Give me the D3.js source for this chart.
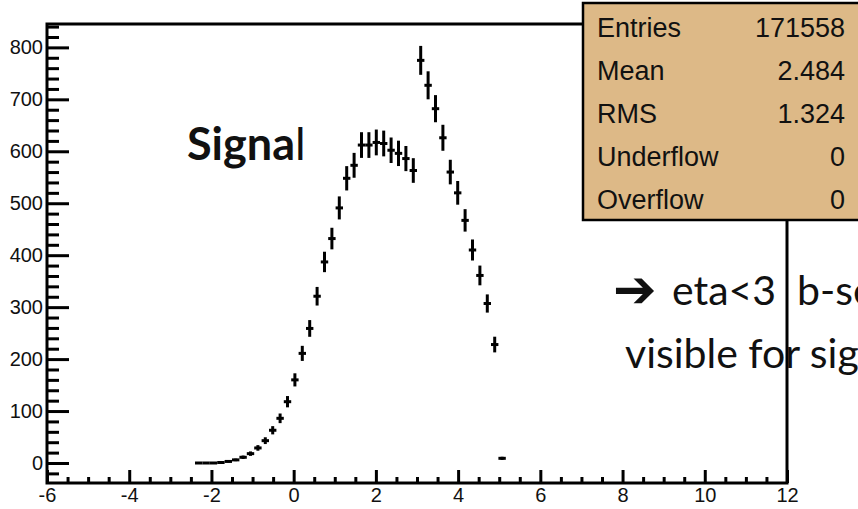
<!DOCTYPE html>
<html lang="en">
<head>
<meta charset="UTF-8">
<title>Signal eta</title>
<script src="https://d3js.org/d3.v7.min.js"></script>
<style>
  body { margin: 0; background: #fff; }
  svg { display: block; }
</style>
</head>
<body>
<div id="chart"></div>
<script>
    // bin centres (100 bins from -6 to 12, width 0.18) and contents
    var binCenters = [-2.31, -2.13, -1.95, -1.77, -1.59, -1.41, -1.23, -1.05, -0.87, -0.69,
                      -0.51, -0.33, -0.15, 0.03, 0.21, 0.39, 0.57, 0.75, 0.93, 1.11,
                      1.29, 1.47, 1.65, 1.83, 2.01, 2.19, 2.37, 2.55, 2.73, 2.91,
                      3.09, 3.27, 3.45, 3.63, 3.81, 3.99, 4.17, 4.35, 4.53, 4.71,
                      4.89, 5.07];
    var counts = [0, 0, 0, 1, 3, 6, 11, 18, 29, 43,
                  63, 86, 118, 160, 211, 259, 321, 387, 432, 491,
                  548, 573, 612, 612, 617, 615, 602, 596, 586, 563,
                  775, 727, 682, 626, 560, 520, 467, 410, 361, 307,
                  228, 9];
    var binWidth = 0.18;

    var xMajor = [-6, -4, -2, 0, 2, 4, 6, 8, 10, 12];
    var yMajor = [0, 100, 200, 300, 400, 500, 600, 700, 800];

    var statNames = ["Entries", "Mean", "RMS", "Underflow", "Overflow"];
    var statValues = ["171558", "2.484", "1.324", "0", "0"];

    var w = 858, h = 509;
    var padL = 47, padR = 787, padT = 24, padB = 483;

    var svg = d3.select("#chart").append("svg")
        .attr("width", w).attr("height", h);

    var x = d3.scaleLinear().domain([-6, 12]).range([padL, padR]);
    var y = d3.scaleLinear().domain([-38.5, 845]).range([padB, padT]);

    // minor ticks
    var xMinor = d3.range(-6, 12.01, 0.5).filter(function(v) { return v % 2 !== 0; });
    var yMinor = d3.range(-20, 845, 20).filter(function(v) { return v % 100 !== 0; });

    function styleAxis(g) {
        g.select(".domain").remove();
        g.selectAll(".tick line").attr("stroke", "#000").attr("stroke-width", 3);
        g.selectAll(".tick text")
            .attr("fill", "#111")
            .style("font-family", "'Liberation Sans', Arial, sans-serif")
            .style("font-size", "20px");
    }

    svg.append("g").attr("transform", "translate(0," + padB + ")")
        .call(d3.axisBottom(x).tickValues(xMinor).tickSize(-6).tickFormat(""))
        .call(styleAxis);
    svg.append("g").attr("transform", "translate(0," + padB + ")")
        .call(d3.axisBottom(x).tickValues(xMajor).tickSize(-13).tickPadding(5)
              .tickFormat(function(d) { return String(d); }))
        .call(styleAxis);

    svg.append("g").attr("transform", "translate(" + padL + ",0)")
        .call(d3.axisLeft(y).tickValues(yMinor).tickSize(-12).tickFormat(""))
        .call(styleAxis);
    svg.append("g").attr("transform", "translate(" + padL + ",0)")
        .call(d3.axisLeft(y).tickValues(yMajor).tickSize(-22).tickPadding(4)
              .tickFormat(function(d) { return String(d); }))
        .call(styleAxis);

    // frame
    svg.append("rect")
        .attr("x", padL).attr("y", padT)
        .attr("width", padR - padL).attr("height", padB - padT)
        .attr("fill", "none").attr("stroke", "#000").attr("stroke-width", 3);

    // points with error bars
    var pts = svg.append("g").attr("stroke", "#000").attr("stroke-width", 3);
    binCenters.forEach(function(c, i) {
        var n = counts[i], err = Math.sqrt(n);
        pts.append("line")
            .attr("x1", x(c - binWidth / 2)).attr("x2", x(c + binWidth / 2))
            .attr("y1", y(n)).attr("y2", y(n));
        if (err > 0) {
            pts.append("line")
                .attr("x1", x(c)).attr("x2", x(c))
                .attr("y1", y(n - err)).attr("y2", y(n + err));
        }
    });

    // slide annotations
    var sig = svg.append("text")
        .attr("x", 187).attr("y", 160)
        .style("font-family", "Lato, 'Open Sans', sans-serif")
        .style("font-size", "45px").attr("fill", "#111");
    sig.append("tspan").attr("font-weight", "bold").text("Signa");
    sig.append("tspan").attr("font-weight", "normal").text("l");

    svg.append("text")
        .attr("x", 613).attr("y", 307)
        .style("font-family", "'DejaVu Sans', sans-serif")
        .style("font-size", "52px").attr("font-weight", "bold").attr("fill", "#111")
        .text("\u2794");
    svg.append("text")
        .attr("x", 672).attr("y", 305)
        .style("font-family", "Lato, 'Open Sans', sans-serif")
        .style("font-size", "41px").attr("fill", "#111")
        .text("eta<3");
    svg.append("text")
        .attr("x", 797).attr("y", 305)
        .style("font-family", "Lato, 'Open Sans', sans-serif")
        .style("font-size", "41px").attr("fill", "#111")
        .text("b-se");
    svg.append("text")
        .attr("x", 625).attr("y", 368)
        .style("font-family", "Lato, 'Open Sans', sans-serif")
        .style("font-size", "41px").attr("fill", "#111")
        .text("visible for sig");

    // stats box
    var box = svg.append("g");
    box.append("rect")
        .attr("x", 583).attr("y", 3)
        .attr("width", 300).attr("height", 217)
        .attr("fill", "#ddb987").attr("stroke", "#000").attr("stroke-width", 2.5);
    statNames.forEach(function(s, i) {
        box.append("text")
            .attr("x", 597).attr("y", 37 + i * 43)
            .style("font-family", "'Liberation Sans', Arial, sans-serif")
            .style("font-size", "27px").attr("fill", "#111")
            .text(s);
        box.append("text")
            .attr("x", 845).attr("y", 37 + i * 43)
            .attr("text-anchor", "end")
            .style("font-family", "'Liberation Sans', Arial, sans-serif")
            .style("font-size", "27px").attr("fill", "#111")
            .text(statValues[i]);
    });
</script>
</body>
</html>
